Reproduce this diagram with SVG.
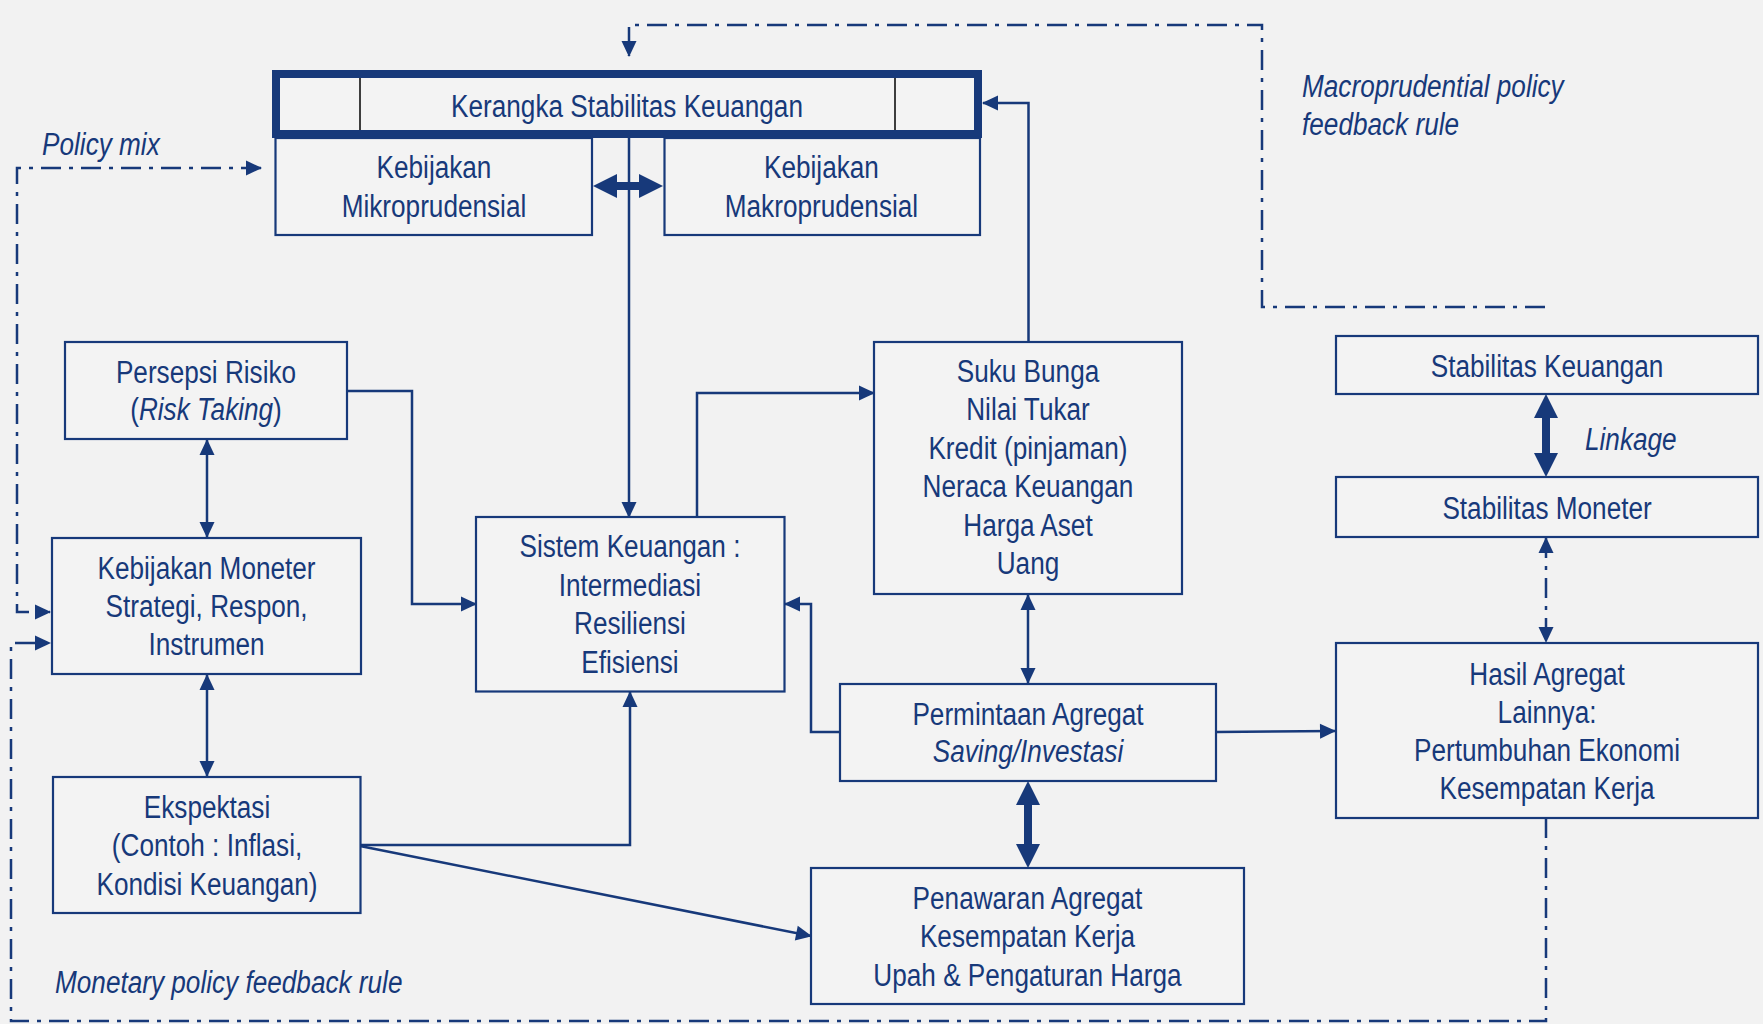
<svg xmlns="http://www.w3.org/2000/svg" width="1763" height="1024" viewBox="0 0 1763 1024">
<defs>
<style>
.bg{fill:#f2f2f2}
.box{fill:#f3f3f3;stroke:#17397a;stroke-width:2.2}
.t{font-family:"Liberation Sans",Arial,sans-serif;font-size:31px;fill:#17397a;text-anchor:middle}
.ti{font-family:"Liberation Sans",Arial,sans-serif;font-size:31px;fill:#17397a;font-style:italic}
.c{fill:none;stroke:#17397a;stroke-width:2.5}
.dd{fill:none;stroke:#17397a;stroke-width:2.5;stroke-dasharray:20 8 4 8}
.thick{fill:none;stroke:#17397a;stroke-width:8}
</style>
<marker id="ah" markerUnits="userSpaceOnUse" markerWidth="18" markerHeight="16" viewBox="0 -8 18 16" refX="15" refY="0" orient="auto-start-reverse" overflow="visible">
<path d="M0,-7.5 L16,0 L0,7.5 Z" fill="#17397a"/>
</marker>
<marker id="big" markerUnits="userSpaceOnUse" markerWidth="26" markerHeight="26" viewBox="0 -13 26 26" refX="0" refY="0" orient="auto-start-reverse" overflow="visible">
<path d="M0,-12 L24,0 L0,12 Z" fill="#17397a"/>
</marker>
</defs>
<rect class="bg" x="0" y="0" width="1763" height="1024"/>

<g id="connectors">
<path class="dd" d="M1545,307 H1262 V25 H629 V56" marker-end="url(#ah)"/>
<path class="dd" d="M261,168 H17 V612 H50" marker-start="url(#ah)" marker-end="url(#ah)"/>
<path class="dd" d="M1546,818 V1021 H11 V643 H50" marker-end="url(#ah)"/>
<path class="dd" d="M1546,538 V642" marker-start="url(#ah)" marker-end="url(#ah)"/>
<path class="c" d="M1028.5,342 V103 H983" marker-end="url(#ah)"/>
<path class="c" d="M629,138 V517" marker-end="url(#ah)"/>
<path class="c" d="M207,440 V537" marker-start="url(#ah)" marker-end="url(#ah)"/>
<path class="c" d="M207,675 V776" marker-start="url(#ah)" marker-end="url(#ah)"/>
<path class="c" d="M347,391 H412 V604 H476" marker-end="url(#ah)"/>
<path class="c" d="M697,517 V393 H874" marker-end="url(#ah)"/>
<path class="c" d="M360,845 H630 V692" marker-end="url(#ah)"/>
<path class="c" d="M360,846 L811,936" marker-end="url(#ah)"/>
<path class="c" d="M840,732 H811 V604 H785" marker-end="url(#ah)"/>
<path class="c" d="M1028,595 V683" marker-start="url(#ah)" marker-end="url(#ah)"/>
<path class="c" d="M1216,732 L1335,731" marker-end="url(#ah)"/>
<path class="thick" d="M617,186 H639" stroke-width="6" marker-start="url(#big)" marker-end="url(#big)"/>
<path class="thick" d="M1028,805 V844" marker-start="url(#big)" marker-end="url(#big)"/>
<path class="thick" d="M1546,418 V453" marker-start="url(#big)" marker-end="url(#big)"/>
</g>

<g id="kerangka">
<rect x="276" y="74" width="702" height="60" fill="#f3f3f3" stroke="#17397a" stroke-width="8"/>
<line x1="360" y1="78" x2="360" y2="130" stroke="#000" stroke-width="1.5"/>
<line x1="895" y1="78" x2="895" y2="130" stroke="#000" stroke-width="1.5"/>
<text class="t" transform="scale(0.844 1)" x="742.9" y="117">Kerangka Stabilitas Keuangan</text>
</g>
<g id="mikro">
<rect class="box" x="275.5" y="138" width="316.5" height="97"/>
<text class="t" transform="scale(0.844 1)" x="514.2" y="178">Kebijakan</text>
<text class="t" transform="scale(0.844 1)" x="514.2" y="217">Mikroprudensial</text>
</g>
<g id="makro">
<rect class="box" x="664.5" y="138" width="315.5" height="97"/>
<text class="t" transform="scale(0.844 1)" x="973.3" y="178">Kebijakan</text>
<text class="t" transform="scale(0.844 1)" x="973.3" y="217">Makroprudensial</text>
</g>
<g id="persepsi">
<rect class="box" x="65" y="342" width="282" height="97"/>
<text class="t" transform="scale(0.844 1)" x="244.1" y="383">Persepsi Risiko</text>
<text class="t" transform="scale(0.844 1)" x="244.1" y="420">(<tspan font-style="italic">Risk Taking</tspan>)</text>
</g>
<g id="moneter">
<rect class="box" x="52" y="538" width="309" height="136"/>
<text class="t" transform="scale(0.844 1)" x="244.7" y="579">Kebijakan Moneter</text>
<text class="t" transform="scale(0.844 1)" x="244.7" y="617">Strategi, Respon,</text>
<text class="t" transform="scale(0.844 1)" x="244.7" y="655">Instrumen</text>
</g>
<g id="ekspektasi">
<rect class="box" x="53" y="777" width="307.5" height="136"/>
<text class="t" transform="scale(0.844 1)" x="245.3" y="818">Ekspektasi</text>
<text class="t" transform="scale(0.844 1)" x="245.3" y="856">(Contoh : Inflasi,</text>
<text class="t" transform="scale(0.844 1)" x="245.3" y="895">Kondisi Keuangan)</text>
</g>
<g id="sistem">
<rect class="box" x="476" y="517" width="308.5" height="174.5"/>
<text class="t" transform="scale(0.844 1)" x="746.4" y="557">Sistem Keuangan :</text>
<text class="t" transform="scale(0.844 1)" x="746.4" y="596">Intermediasi</text>
<text class="t" transform="scale(0.844 1)" x="746.4" y="634">Resiliensi</text>
<text class="t" transform="scale(0.844 1)" x="746.4" y="673">Efisiensi</text>
</g>
<g id="suku">
<rect class="box" x="874" y="342" width="308" height="252"/>
<text class="t" transform="scale(0.844 1)" x="1218" y="382">Suku Bunga</text>
<text class="t" transform="scale(0.844 1)" x="1218" y="420.5">Nilai Tukar</text>
<text class="t" transform="scale(0.844 1)" x="1218" y="459">Kredit (pinjaman)</text>
<text class="t" transform="scale(0.844 1)" x="1218" y="497">Neraca Keuangan</text>
<text class="t" transform="scale(0.844 1)" x="1218" y="536">Harga Aset</text>
<text class="t" transform="scale(0.844 1)" x="1218" y="574">Uang</text>
</g>
<g id="permintaan">
<rect class="box" x="840" y="684" width="376" height="97"/>
<text class="t" transform="scale(0.844 1)" x="1218" y="725">Permintaan Agregat</text>
<text class="t" transform="scale(0.844 1)" x="1218" y="762" font-style="italic">Saving/Investasi</text>
</g>
<g id="penawaran">
<rect class="box" x="811" y="868" width="433" height="136"/>
<text class="t" transform="scale(0.844 1)" x="1217.4" y="909">Penawaran Agregat</text>
<text class="t" transform="scale(0.844 1)" x="1217.4" y="947">Kesempatan Kerja</text>
<text class="t" transform="scale(0.844 1)" x="1217.4" y="986">Upah &amp; Pengaturan Harga</text>
</g>
<g id="stab-keuangan">
<rect class="box" x="1336" y="336" width="422" height="58"/>
<text class="t" transform="scale(0.844 1)" x="1833" y="377">Stabilitas Keuangan</text>
</g>
<g id="stab-moneter">
<rect class="box" x="1336" y="477" width="422" height="60"/>
<text class="t" transform="scale(0.844 1)" x="1833" y="519">Stabilitas Moneter</text>
</g>
<g id="hasil">
<rect class="box" x="1336" y="643" width="422" height="175"/>
<text class="t" transform="scale(0.844 1)" x="1833" y="685">Hasil Agregat</text>
<text class="t" transform="scale(0.844 1)" x="1833" y="723">Lainnya:</text>
<text class="t" transform="scale(0.844 1)" x="1833" y="761">Pertumbuhan Ekonomi</text>
<text class="t" transform="scale(0.844 1)" x="1833" y="799">Kesempatan Kerja</text>
</g>
<g id="labels">
<text class="ti" transform="scale(0.844 1)" x="49.8" y="155">Policy mix</text>
<text class="ti" transform="scale(0.844 1)" x="1542.7" y="97">Macroprudential policy</text>
<text class="ti" transform="scale(0.844 1)" x="1542.7" y="135">feedback rule</text>
<text class="ti" transform="scale(0.844 1)" x="1878" y="450">Linkage</text>
<text class="ti" transform="scale(0.844 1)" x="65.2" y="993">Monetary policy feedback rule</text>
</g>
</svg>
